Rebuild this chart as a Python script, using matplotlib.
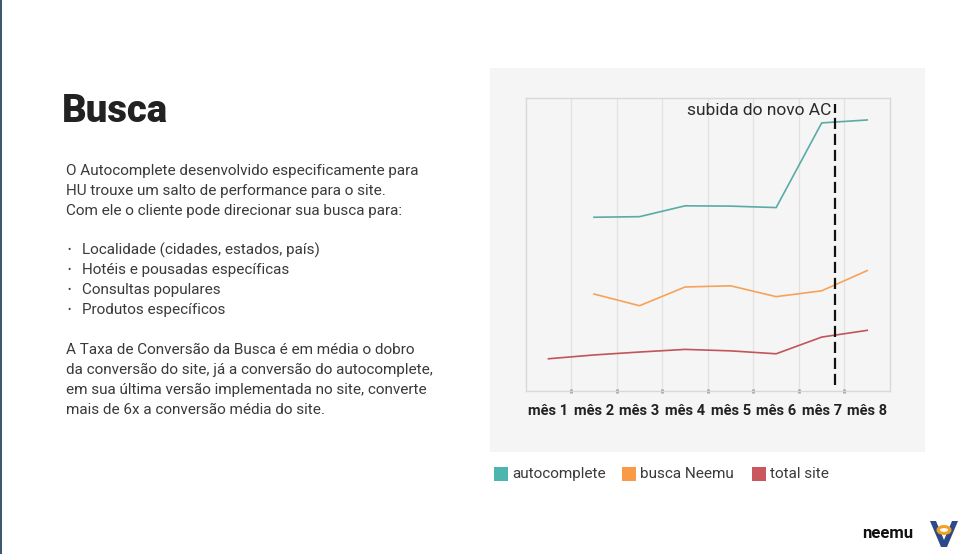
import matplotlib
matplotlib.use("Agg")
import matplotlib.pyplot as plt
from matplotlib.patches import Rectangle, Circle, Polygon
import numpy as np

plt.rcParams['font.family'] = ['Roboto', 'DejaVu Sans']

# ---- data ----
months = ["mês 1", "mês 2", "mês 3", "mês 4", "mês 5", "mês 6", "mês 7", "mês 8"]
autocomplete = [None, 5.93, 5.95, 6.32, 6.31, 6.26, 9.15, 9.25]
busca_neemu = [None, 3.31, 2.91, 3.55, 3.59, 3.22, 3.42, 4.11]
total_site = [1.10, 1.23, 1.33, 1.42, 1.37, 1.27, 1.84, 2.07]
series_names = ["autocomplete", "busca Neemu", "total site"]
line_colors = ["#5aaba7", "#f5a35a", "#c0555a"]
legend_colors = ["#4cb5ae", "#f99a47", "#c9575d"]
event_x = 6.3
event_label = "subida do novo AC"

W, H = 960, 554
fig = plt.figure(figsize=(W / 100, H / 100), dpi=100)
fig.patch.set_facecolor("white")

def fx(x):
    return x / W

def fy(y):
    return 1 - y / H

# left border line
fig.add_artist(Rectangle((0, 0), fx(1.5), 1, transform=fig.transFigure,
                         facecolor="#3d5a73", edgecolor="none"))

# chart panel
fig.add_artist(Rectangle((fx(490), fy(452)), fx(435), (452 - 68) / H,
                         transform=fig.transFigure, facecolor="#f5f5f5",
                         edgecolor="none", zorder=0))

# title and text
fig.text(fx(62), fy(111), "Busca", fontsize=27.5, fontweight="black",
         color="#222222", va="center", ha="left")

body_color = "#3a3a3a"
para1 = ["O Autocomplete desenvolvido especificamente para",
         "HU trouxe um salto de performance para o site.",
         "Com ele o cliente pode direcionar sua busca para:"]
bullets = ["Localidade (cidades, estados, país)",
           "Hotéis e pousadas específicas",
           "Consultas populares",
           "Produtos específicos"]
para2 = ["A Taxa de Conversão da Busca é em média o dobro",
         "da conversão do site, já a conversão do autocomplete,",
         "em sua última versão implementada no site, converte",
         "mais de 6x a conversão média do site."]
y = 171
for s in para1:
    fig.text(fx(66), fy(y), s, fontsize=11, color=body_color,
             va="center", ha="left")
    y += 20
y = 250
for s in bullets:
    fig.text(fx(67), fy(y), "•", fontsize=7, color=body_color, va="center", ha="left")
    fig.text(fx(82), fy(y), s, fontsize=11, color=body_color,
             va="center", ha="left")
    y += 20
y = 350
for s in para2:
    fig.text(fx(66), fy(y), s, fontsize=11, color=body_color,
             va="center", ha="left")
    y += 20

# chart axes
L, R, T, B = 525.7, 890, 98, 391
ax = fig.add_axes([fx(L), fy(B), (R - L) / W, (B - T) / H])
ax.set_facecolor("#f5f5f5")
x = np.arange(len(months))
for vals, c in zip([autocomplete, busca_neemu, total_site], line_colors):
    xs = [xi for xi, v in zip(x, vals) if v is not None]
    vs = [v for v in vals if v is not None]
    ax.plot(xs, vs, color=c, lw=1.2, zorder=3)

ax.set_xlim(-0.5, len(months) - 0.5)
ax.set_ylim(0, 10)
ax.set_xticks(x)
ax.set_xticklabels(months, fontsize=10.5, fontweight="bold", color="#222222")
ax.set_xticks(np.arange(0.5, len(months) - 1, 1), minor=True)
ax.tick_params(axis="x", which="major", length=0, pad=9.5)
ax.tick_params(axis="x", which="minor", length=3, width=2, color="#a0a0a0", direction="inout")
ax.set_yticks([])
ax.grid(True, which="minor", axis="x", color="#e2e2e2", lw=0.9, zorder=1)
for sp in ax.spines.values():
    sp.set_color("#d8d8d8")
    sp.set_linewidth(1)

ax.plot([event_x, event_x], [0.22, 9.8], color="#111111", lw=1.6,
        linestyle=(0, (5, 2.2)), zorder=4)
ax.text(event_x - 0.09, 9.56, event_label, fontsize=12.5,
        color="#2a2a2a", ha="right", va="center")

# legend
lx = [494, 622, 752]
for name, c, xx in zip(series_names, legend_colors, lx):
    fig.add_artist(Rectangle((fx(xx), fy(481)), fx(14), 14 / H,
                             transform=fig.transFigure, facecolor=c, edgecolor="none"))
    fig.text(fx(xx + 18), fy(474), name, fontsize=11, color="#3a3a3a",
             va="center", ha="left")

# logo
fig.text(fx(888), fy(533), "neemu", fontsize=12, fontweight="bold", color="#111111",
         ha="center", va="center")
fig.add_artist(Polygon([[fx(930), fy(521)], [fx(936), fy(521)], [fx(944), fy(540)],
                        [fx(952), fy(521)], [fx(958), fy(521)], [fx(947), fy(547)],
                        [fx(941), fy(547)]], closed=True, transform=fig.transFigure,
                       facecolor="#2c4a8a", edgecolor="none"))
fig.add_artist(Circle((fx(944), fy(530)), 0.0062, transform=fig.transFigure,
                      facecolor="none", edgecolor="#f2a21e", lw=2.2))

fig.savefig("out.png", dpi=100, facecolor="white")
